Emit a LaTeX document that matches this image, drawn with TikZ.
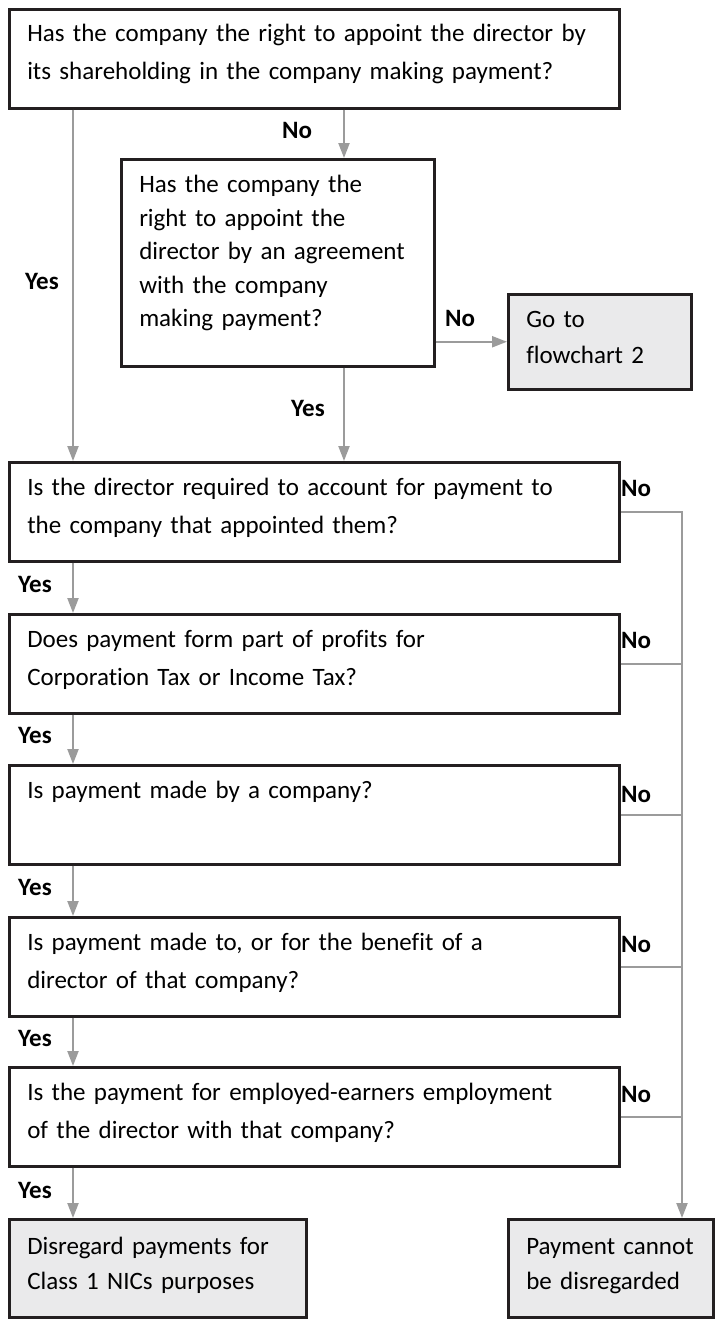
\documentclass[tikz,border=0pt]{standalone}
\usepackage{fontspec}
\setmainfont{Carlito}[Ligatures=NoCommon]
\usetikzlibrary{arrows.meta}
\definecolor{boxline}{HTML}{231F20}
\definecolor{arrowgrey}{HTML}{9B9B9B}
\definecolor{endfill}{HTML}{EAEAEB}
\begin{document}
\begin{tikzpicture}[x=1pt,y=-1pt]
   \tikzstyle{every node}=[font=\fontsize{25}{38}\selectfont]
   \tikzstyle{qbox}=[draw=boxline, line width=2.5pt, fill=white, anchor=north west,
                     align=left, inner xsep=18pt, inner ysep=0pt]
   \tikzstyle{endbox}=[qbox, fill=endfill]
   \tikzstyle{answer}=[font=\fontsize{25}{30}\selectfont\bfseries, inner sep=0pt]
   \tikzstyle{arr}=[draw=arrowgrey, line width=2.2pt, -{Triangle[length=15pt,width=11pt]}]
   \tikzstyle{rail}=[draw=arrowgrey, line width=2.2pt]

   \useasboundingbox[fill=white] (0,0) rectangle (715,1320);

   % questions
   \node[qbox, text width=574pt, text height=32pt, text depth=67pt] (shares) at (8,8)
      {Has the company the right to appoint the director by\\its shareholding in the company making payment?};
   \node[qbox, text width=277pt, text height=33.5pt, text depth=173.5pt,
         font=\fontsize{25}{33.5}\selectfont] (agree) at (120,158)
      {Has the company the\\right to appoint the\\director by an agreement\\with the company\\making payment?};
   \node[endbox, text width=147pt, text height=33.5pt, text depth=61.5pt,
         font=\fontsize{25}{36}\selectfont] (chart2) at (507,293)
      {Go to\\flowchart 2};

   \node[qbox, text width=574pt, text height=33.5pt, text depth=65.5pt] (account) at (8,461)
      {Is the director required to account for payment to\\the company that appointed them?};
   \node[qbox, text width=574pt, text height=33.5pt, text depth=65.5pt] (profits) at (8,613)
      {Does payment form part of profits for\\Corporation Tax or Income Tax?};
   \node[qbox, text width=574pt, text height=33.5pt, text depth=65.5pt] (bycomp) at (8,764)
      {Is payment made by a company?};
   \node[qbox, text width=574pt, text height=33.5pt, text depth=65.5pt] (todir) at (8,916)
      {Is payment made to, or for the benefit of a\\director of that company?};
   \node[qbox, text width=574pt, text height=33.5pt, text depth=65.5pt] (employ) at (8,1066)
      {Is the payment for employed-earners employment\\of the director with that company?};

   % outcomes
   \node[endbox, text width=261pt, text height=35.5pt, text depth=62.5pt,
         font=\fontsize{25}{35}\selectfont] (disregard) at (8,1218)
      {Disregard payments for\\Class 1 NICs purposes};
   \node[endbox, text width=169pt, text height=35.5pt, text depth=62.5pt,
         font=\fontsize{25}{35}\selectfont] (cannot) at (507,1218)
      {Payment cannot\\be disregarded};

   % answers
   \node[answer] (no1) at (297,130) {No};
   \node[answer] (yes1) at (42,281) {Yes};
   \node[answer] (no2) at (460,318) {No};
   \node[answer] (yes2) at (308,408) {Yes};
   \node[answer] (no3) at (636,488) {No};
   \node[answer] (no4) at (636,640) {No};
   \node[answer] (no5) at (636,794) {No};
   \node[answer] (no6) at (636,944) {No};
   \node[answer] (no7) at (636,1094) {No};
   \node[answer] (yes3) at (35,584) {Yes};
   \node[answer] (yes4) at (35,735) {Yes};
   \node[answer] (yes5) at (35,887) {Yes};
   \node[answer] (yes6) at (35,1038) {Yes};
   \node[answer] (yes7) at (35,1190) {Yes};

   % connectors
   \draw[arr] ([xshift=65pt]shares.south west) -- ([xshift=65pt]account.north west);
   \draw[arr] ([xshift=336pt]shares.south west) -- ([xshift=224pt]agree.north west);
   \draw[arr] (agree.east |- chart2.west) -- (chart2.west);
   \draw[arr] ([xshift=224pt]agree.south west) -- ([xshift=336pt]account.north west);
   \draw[arr] ([xshift=65pt]account.south west) -- ([xshift=65pt]profits.north west);
   \draw[arr] ([xshift=65pt]profits.south west) -- ([xshift=65pt]bycomp.north west);
   \draw[arr] ([xshift=65pt]bycomp.south west) -- ([xshift=65pt]todir.north west);
   \draw[arr] ([xshift=65pt]todir.south west) -- ([xshift=65pt]employ.north west);
   \draw[arr] ([xshift=65pt]employ.south west) -- ([xshift=65pt]disregard.north west);

   \coordinate (railend) at ([xshift=175pt]cannot.north west);
   \draw[arr] (account.east) -- (account.east -| railend) -- (railend);
   \draw[rail] (profits.east) -- (profits.east -| railend);
   \draw[rail] (bycomp.east) -- (bycomp.east -| railend);
   \draw[rail] (todir.east) -- (todir.east -| railend);
   \draw[rail] (employ.east) -- (employ.east -| railend);
\end{tikzpicture}
\end{document}
